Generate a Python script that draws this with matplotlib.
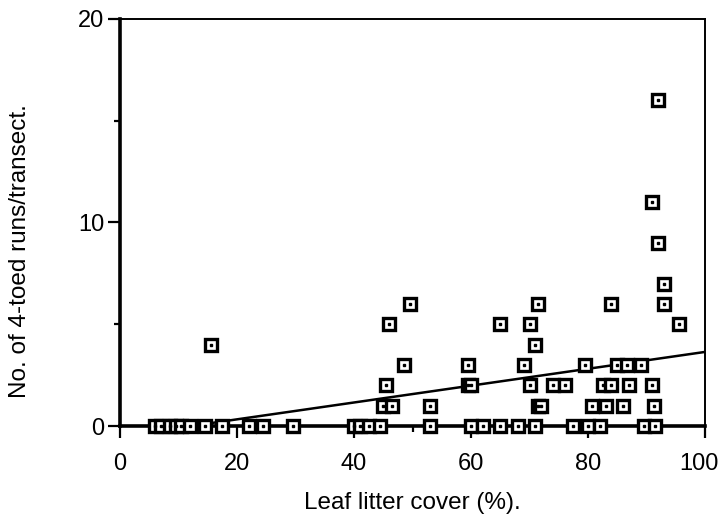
import numpy as np
import matplotlib
matplotlib.use("Agg")
import matplotlib.pyplot as plt
from matplotlib.ticker import MultipleLocator

plt.rcParams["font.family"] = ["Liberation Sans", "DejaVu Sans"]

# leaf litter cover (%) and runs per transect
cover_0 = [6, 7, 8.5, 9.5, 10.5, 12, 14.5, 17.5, 22, 24.5, 29.5, 40, 41, 42.5,
           44.5, 53, 60, 62, 65, 68, 71, 77.5, 80, 82, 89.5, 91.5]
cover_1 = [45, 46.5, 53, 71.5, 72, 80.7, 83, 86, 91.3]
cover_2 = [45.5, 59.5, 60, 70, 74, 76, 82.5, 84, 87, 91]
cover_3 = [48.5, 59.5, 69, 79.5, 85, 86.7, 89]
cover_hi = [15.5, 71, 46, 65, 70, 95.5, 49.5, 71.5, 84, 93, 93, 92, 91, 92]
runs_hi = [4, 4, 5, 5, 5, 5, 6, 6, 6, 6, 7, 9, 11, 16]

x_ticks = [0, 20, 40, 60, 80, 100]
x_ticklabels = ["0", "20", "40", "60", "80", "100"]

cover = np.array(cover_0 + cover_1 + cover_2 + cover_3 + cover_hi)
runs = np.array([0] * len(cover_0) + [1] * len(cover_1) + [2] * len(cover_2)
                + [3] * len(cover_3) + runs_hi)

# fitted line (intercept, slope)
fit_b0, fit_b1 = -0.50, 0.0414

fig = plt.figure(figsize=(7.19, 5.16), dpi=100)
ax = fig.add_axes([0.167, 0.1744, 0.8135, 0.7888])

xl = np.array([5, 100])
ax.plot(xl, fit_b0 + fit_b1 * xl, color="black", lw=1.8, zorder=2)

ax.plot(cover, runs, "s", mfc="white", mec="black", ms=8.4, mew=2.4,
        ls="none", clip_on=False, zorder=3)
ax.plot(cover, runs, "s", color="black", ms=1.6, ls="none",
        clip_on=False, zorder=4)

ax.set_xlim(0, 100)
ax.set_ylim(0, 20)
# last label "100" drawn by hand so it can sit a bit left of centre
ax.set_xticks(x_ticks, x_ticklabels[:-1] + [""])
ax.xaxis.set_minor_locator(MultipleLocator(10))
ax.yaxis.set_major_locator(MultipleLocator(10))
ax.yaxis.set_minor_locator(MultipleLocator(5))
ax.tick_params(which="major", direction="out", length=8.5, width=1.6,
               labelsize=17)
ax.tick_params(axis="x", which="major", pad=11)
ax.tick_params(axis="y", which="major", pad=3)
ax.tick_params(which="minor", direction="out", length=4.5, width=1.6)
ax.annotate(x_ticklabels[-1], xy=(x_ticks[-1], 0), xycoords=("data", "axes fraction"),
            xytext=(-4, -19.5), textcoords="offset points",
            ha="center", va="top", fontsize=17)

for s in ["left", "bottom"]:
    ax.spines[s].set_linewidth(2.6)
for s in ["top", "right"]:
    ax.spines[s].set_linewidth(1.4)

ax.set_xlabel("Leaf litter cover (%).", fontsize=17.5, labelpad=12)
ax.set_ylabel("No. of 4-toed runs/transect.", fontsize=17.5)
ax.yaxis.set_label_coords(-0.152, 0.43)

fig.savefig("out.png", dpi=100)
